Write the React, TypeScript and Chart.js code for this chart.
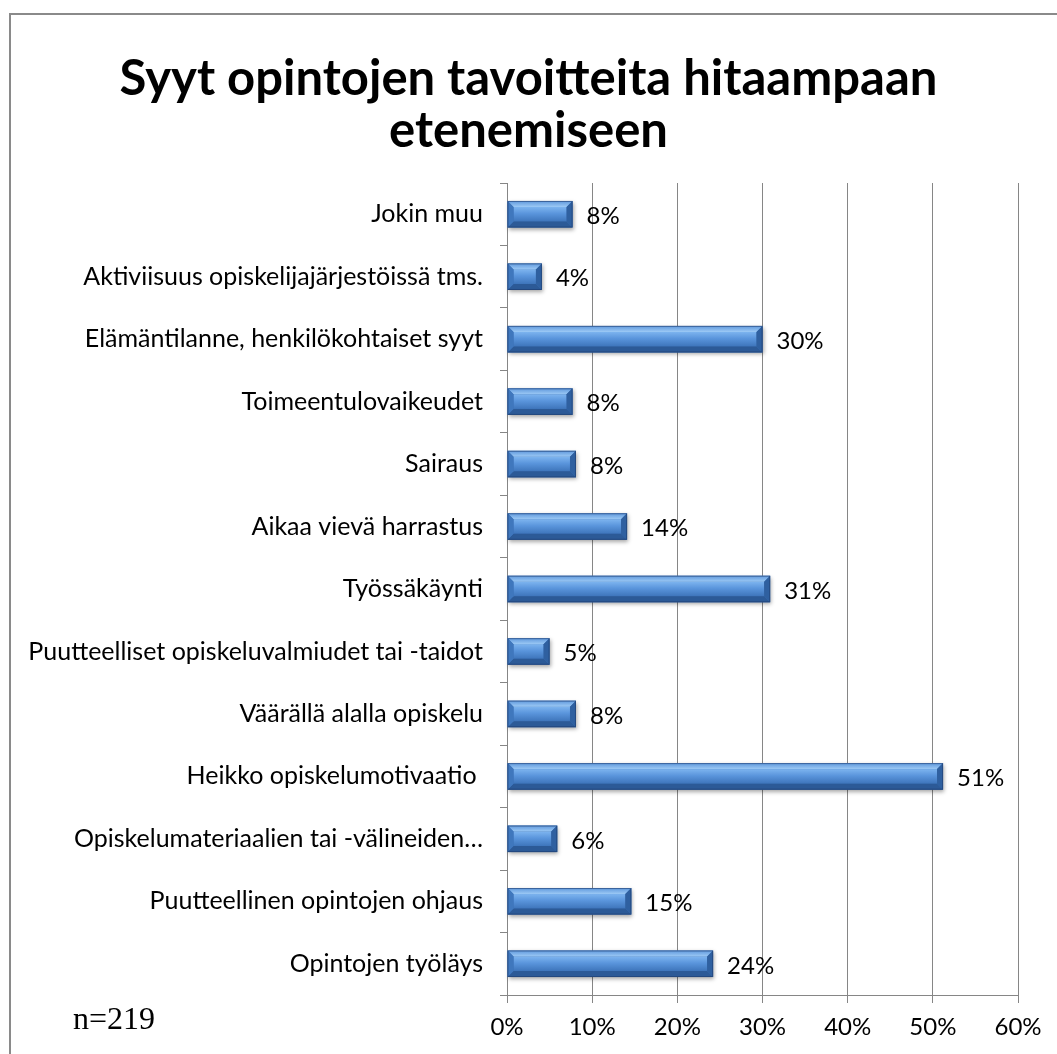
import React, { useEffect, useRef } from "react";
import { Chart, registerables } from "chart.js";

Chart.register(...registerables);

const categories = [
  "Jokin muu",
  "Aktiviisuus opiskelijajärjestöissä tms.",
  "Elämäntilanne, henkilökohtaiset syyt",
  "Toimeentulovaikeudet",
  "Sairaus",
  "Aikaa vievä harrastus",
  "Työssäkäynti",
  "Puutteelliset opiskeluvalmiudet tai -taidot",
  "Väärällä alalla opiskelu",
  "Heikko opiskelumotivaatio ",
  "Opiskelumateriaalien tai -välineiden…",
  "Puutteellinen opintojen ohjaus",
  "Opintojen työläys",
];

const values = [7.7, 4.1, 30.0, 7.7, 8.1, 14.1, 30.9, 5.0, 8.1, 51.2, 5.9, 14.6, 24.2];

const valueLabels = ["8%", "4%", "30%", "8%", "8%", "14%", "31%", "5%", "8%", "51%", "6%", "15%", "24%"];

const xTicks = [0, 10, 20, 30, 40, 50, 60];

const titleLines = ["Syyt opintojen tavoitteita hitaampaan", "etenemiseen"];

const noteText = "n=219";

const FONT = "Lato, 'Open Sans', sans-serif";

const titleDraw = {
  id: "titleDraw",
  afterDraw(chart: any) {
    const ctx = chart.ctx;
    ctx.save();
    ctx.font = `bold 49px ${FONT}`;
    ctx.fillStyle = "#000";
    ctx.textAlign = "center";
    ctx.textBaseline = "middle";
    const cx = 528.5;
    titleLines.forEach((t, i) => ctx.fillText(t, cx, 79 + i * 52));
    ctx.restore();
  },
};

const bevelBars = {
  id: "bevelBars",
  afterDatasetsDraw(chart: any) {
    const ctx = chart.ctx;
    const meta = chart.getDatasetMeta(0);
    meta.data.forEach((el: any, i: number) => {
      const x0 = Math.min(el.base, el.x);
      const x1 = Math.max(el.base, el.x);
      const h = el.height;
      const y0 = el.y - h / 2;
      const y1 = el.y + h / 2;
      const b = Math.min(6, (x1 - x0) / 3);
      ctx.save();
      ctx.shadowColor = "rgba(0,0,0,0.35)";
      ctx.shadowBlur = 4;
      ctx.shadowOffsetX = 1;
      ctx.shadowOffsetY = 2;
      ctx.fillStyle = "#3b70b3";
      ctx.fillRect(x0, y0, x1 - x0, y1 - y0);
      ctx.restore();
      ctx.save();
      const poly = (pts: number[][], color: any) => {
        ctx.beginPath();
        ctx.moveTo(pts[0][0], pts[0][1]);
        for (let k = 1; k < pts.length; k++) ctx.lineTo(pts[k][0], pts[k][1]);
        ctx.closePath();
        ctx.fillStyle = color;
        ctx.fill();
      };
      const g = ctx.createLinearGradient(0, y0 + b, 0, y1 - b);
      g.addColorStop(0, "#7db4ef");
      g.addColorStop(0.45, "#5a95dc");
      g.addColorStop(1, "#3e75bb");
      ctx.fillStyle = g;
      ctx.fillRect(x0 + b, y0 + b, x1 - x0 - 2 * b, y1 - y0 - 2 * b);
      const gt = ctx.createLinearGradient(0, y0, 0, y0 + b);
      gt.addColorStop(0, "#5f98dc");
      gt.addColorStop(1, "#9cc9f5");
      poly([[x0, y0], [x1, y0], [x1 - b, y0 + b], [x0 + b, y0 + b]], gt);
      poly([[x0, y1], [x1, y1], [x1 - b, y1 - b], [x0 + b, y1 - b]], "#2c5a97");
      poly([[x0, y0], [x0 + b, y0 + b], [x0 + b, y1 - b], [x0, y1]], "#3f77bd");
      poly([[x1, y0], [x1 - b, y0 + b], [x1 - b, y1 - b], [x1, y1]], "#2f60a0");
      ctx.strokeStyle = "rgba(30,60,110,0.6)";
      ctx.lineWidth = 1;
      ctx.strokeRect(x0 + 0.5, y0 + 0.5, x1 - x0 - 1, y1 - y0 - 1);
      ctx.restore();

      ctx.save();
      ctx.font = `24px ${FONT}`;
      ctx.fillStyle = "#000";
      ctx.textAlign = "left";
      ctx.textBaseline = "middle";
      ctx.fillText(valueLabels[i], x1 + 14, el.y + 2);
      ctx.restore();
    });
  },
};

export default function App() {
  const ref = useRef<HTMLCanvasElement | null>(null);
  useEffect(() => {
    if (!ref.current) return;
    const chart = new Chart(ref.current, {
      type: "bar",
      data: {
        labels: categories,
        datasets: [
          {
            data: values,
            backgroundColor: "rgba(0,0,0,0)",
            borderWidth: 0,
            barPercentage: 0.425,
            categoryPercentage: 1,
          },
        ],
      },
      options: {
        indexAxis: "y",
        animation: false,
        responsive: false,
        devicePixelRatio: 1,
        layout: { padding: { left: 0, right: 39, top: 183, bottom: 0 } },
        plugins: {
          legend: { display: false },
          tooltip: { enabled: false },
          title: { display: false },
        },
        scales: {
          x: {
            min: 0,
            max: 60,
            afterBuildTicks: (scale: any) => {
              scale.ticks = xTicks.map((v) => ({ value: v }));
            },
            afterFit: (scale: any) => {
              scale.height = 59;
            },
            grid: {
              color: "#868686",
              lineWidth: 1,
              drawTicks: true,
              tickLength: 8,
            },
            border: { display: true, color: "#868686", width: 1 },
            ticks: {
              color: "#000",
              font: { family: FONT, size: 24 },
              padding: 10,
              callback: (v: any) => v + "%",
            },
          },
          y: {
            afterFit: (scale: any) => {
              scale.width = 507;
            },
            grid: {
              drawOnChartArea: false,
              drawTicks: true,
              tickLength: 7,
              color: "#868686",
              offset: true,
            },
            border: { display: true, color: "#868686", width: 1 },
            ticks: {
              color: "#000",
              font: { family: FONT, size: 25 },
              padding: 17,
              autoSkip: false,
            },
          },
        },
      },
      plugins: [bevelBars, titleDraw],
    } as any);
    return () => chart.destroy();
  }, []);

  return (
    <div
      style={{
        position: "fixed",
        left: 0,
        top: 0,
        width: 1057,
        height: 1054,
        overflow: "hidden",
        background: "#fff",
      }}
    >
      <div
        style={{
          position: "absolute",
          left: 9,
          top: 13,
          width: 1200,
          height: 1200,
          borderTop: "2px solid #8a8a8a",
          borderLeft: "2px solid #8a8a8a",
        }}
      />
      <canvas ref={ref} width={1057} height={1054} style={{ position: "absolute", left: 0, top: 0 }} />
      <div
        style={{
          position: "absolute",
          left: 73,
          top: 998,
          fontFamily: "'Liberation Serif', 'Times New Roman', serif",
          fontSize: 32,
          lineHeight: "40px",
          color: "#000",
        }}
      >
        {noteText}
      </div>
    </div>
  );
}
